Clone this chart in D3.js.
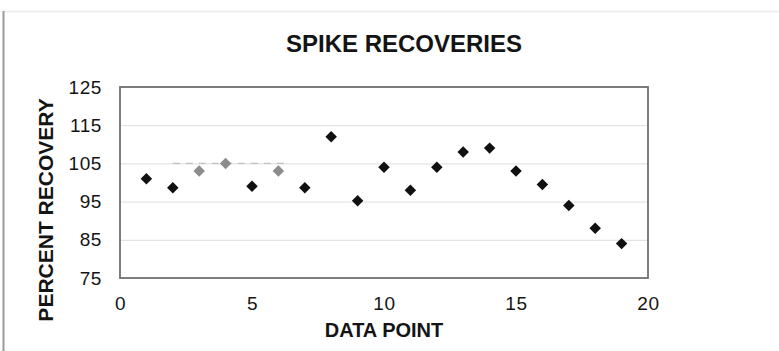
<!DOCTYPE html>
<html lang="en">
<head>
    <meta charset="utf-8" />
    <title>Spike Recoveries</title>
    <script src="https://d3js.org/d3.v7.min.js"></script>
    <style>
        body { margin: 0; background: #fff; }
        text { font-family: "Liberation Sans", Arial, sans-serif; fill: #141414; }
        .axis text { font-size: 19px; letter-spacing: 0.6px; }
        .grid line { stroke: #e4e4e4; stroke-width: 1.2; }
        .title { font-size: 24px; font-weight: bold; }
        .axis-title { font-size: 20px; font-weight: bold; }
    </style>
</head>
<body>
    <script>
        // data
        const dataPoints = d3.range(1, 20);
        const recovery = [101, 98.6, 103, 105, 99, 103, 98.6, 112, 95.2, 104, 98, 104, 108, 109, 103, 99.5, 94, 88, 84];
        const grayPoints = [3, 4, 6];
        const xTicks = [0, 5, 10, 15, 20];
        const yTicks = [75, 85, 95, 105, 115, 125];
        const refSpan = [2, 6.2];
        const refLevel = 105;

        const W = 779, H = 351;
        const margin = { top: 87, right: 131, bottom: 73, left: 120 };
        const width = W - margin.left - margin.right;
        const height = H - margin.top - margin.bottom;

        const svg = d3.select("body").append("svg")
            .attr("width", W)
            .attr("height", H);

        // outer chart frame
        svg.append("line").attr("x1", 3).attr("x2", W).attr("y1", 11.5).attr("y2", 11.5)
            .attr("stroke", "#ececec").attr("stroke-width", 1.5);
        svg.append("line").attr("x1", 3.5).attr("x2", 3.5).attr("y1", 11).attr("y2", H)
            .attr("stroke", "#9a9a9a").attr("stroke-width", 2);

        const g = svg.append("g").attr("transform", `translate(${margin.left},${margin.top})`);

        const x = d3.scaleLinear().domain([0, 20]).range([0, width]);
        const y = d3.scaleLinear().domain([75, 125]).range([height, 0]);

        // gridlines
        g.append("g").attr("class", "grid")
            .call(d3.axisLeft(y).tickValues(yTicks.slice(1, -1)).tickSize(-width).tickFormat(""))
            .call(s => s.select(".domain").remove());

        // dashed reference segment
        g.append("line")
            .attr("x1", x(refSpan[0])).attr("x2", x(refSpan[1]))
            .attr("y1", y(refLevel)).attr("y2", y(refLevel))
            .attr("stroke", "#c2c2c2").attr("stroke-width", 1.2)
            .attr("stroke-dasharray", "7,6");

        // plot border
        g.append("rect").attr("width", width).attr("height", height)
            .attr("fill", "none").attr("stroke", "#6f6f6f").attr("stroke-width", 1.8);

        // axes
        g.append("g").attr("class", "axis")
            .call(d3.axisLeft(y).tickValues(yTicks).tickSize(0).tickPadding(18))
            .call(s => s.select(".domain").remove());

        g.append("g").attr("class", "axis")
            .attr("transform", `translate(0,${height})`)
            .call(d3.axisBottom(x).tickValues(xTicks).tickSize(0).tickPadding(19))
            .call(s => s.select(".domain").remove());

        // points
        const diamond = d3.symbol().type(d3.symbolSquare).size(66);
        g.selectAll(".pt")
            .data(dataPoints)
            .join("path")
            .attr("class", "pt")
            .attr("d", diamond)
            .attr("transform", (d, i) => `translate(${x(d)},${y(recovery[i])}) rotate(45)`)
            .attr("fill", d => grayPoints.includes(d) ? "#8c8c8c" : "#111");

        // titles
        svg.append("text").attr("class", "title")
            .attr("x", 404).attr("y", 52)
            .attr("text-anchor", "middle")
            .text("SPIKE RECOVERIES");

        svg.append("text").attr("class", "axis-title")
            .attr("x", margin.left + width / 2).attr("y", 337)
            .attr("text-anchor", "middle")
            .text("DATA POINT");

        svg.append("text").attr("class", "axis-title")
            .attr("transform", "translate(53,210) rotate(-90)")
            .attr("text-anchor", "middle")
            .style("font-size", "21px")
            .text("PERCENT RECOVERY");
    </script>
</body>
</html>
